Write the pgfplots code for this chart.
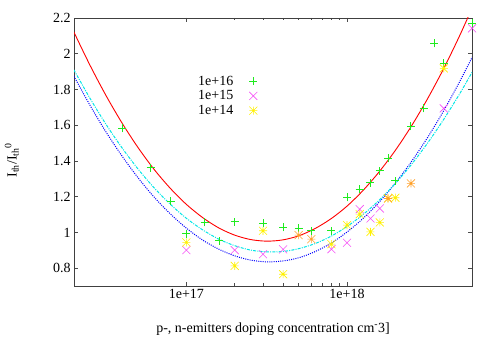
\documentclass[border=0pt]{standalone}
\usepackage{fontspec}
\setmainfont{Liberation Serif}
\usepackage{pgfplots}
\pgfplotsset{compat=1.18}
\definecolor{gpred}{RGB}{255,0,0}
\definecolor{gpgreen}{RGB}{30,235,30}
\definecolor{gpblue}{RGB}{0,0,255}
\definecolor{gpmag}{RGB}{245,80,245}
\definecolor{gpcyan}{RGB}{0,230,230}
\definecolor{gpyellow}{RGB}{255,240,0}
\definecolor{gporange}{RGB}{255,160,40}
\pgfdeclareplotmark{gpx}{%
  \pgfpathmoveto{\pgfpoint{-\pgfplotmarksize}{-\pgfplotmarksize}}%
  \pgfpathlineto{\pgfpoint{\pgfplotmarksize}{\pgfplotmarksize}}%
  \pgfpathmoveto{\pgfpoint{-\pgfplotmarksize}{\pgfplotmarksize}}%
  \pgfpathlineto{\pgfpoint{\pgfplotmarksize}{-\pgfplotmarksize}}%
  \pgfusepathqstroke}
\pgfdeclareplotmark{gpplus}{%
  \pgfpathmoveto{\pgfpoint{-\pgfplotmarksize}{0pt}}%
  \pgfpathlineto{\pgfpoint{\pgfplotmarksize}{0pt}}%
  \pgfpathmoveto{\pgfpoint{0pt}{-\pgfplotmarksize}}%
  \pgfpathlineto{\pgfpoint{0pt}{\pgfplotmarksize}}%
  \pgfusepathqstroke}
\pgfdeclareplotmark{gpstar}{%
  \pgfpathmoveto{\pgfpoint{-\pgfplotmarksize}{-\pgfplotmarksize}}%
  \pgfpathlineto{\pgfpoint{\pgfplotmarksize}{\pgfplotmarksize}}%
  \pgfpathmoveto{\pgfpoint{-\pgfplotmarksize}{\pgfplotmarksize}}%
  \pgfpathlineto{\pgfpoint{\pgfplotmarksize}{-\pgfplotmarksize}}%
  \pgfpathmoveto{\pgfpoint{-\pgfplotmarksize}{0pt}}%
  \pgfpathlineto{\pgfpoint{\pgfplotmarksize}{0pt}}%
  \pgfpathmoveto{\pgfpoint{0pt}{-\pgfplotmarksize}}%
  \pgfpathlineto{\pgfpoint{0pt}{\pgfplotmarksize}}%
  \pgfusepathqstroke}
\begin{document}
\begin{tikzpicture}
\begin{axis}[
  name=ax, scale only axis, width=398bp, height=268bp,
  xmode=log, xmin=2e16, xmax=6e18, ymin=0.7, ymax=2.2,
  xtick={1e17,1e18}, xticklabels={1e+17,1e+18},
  ytick={0.8,1,1.2,1.4,1.6,1.8,2,2.2},
  yticklabels={0.8,1,1.2,1.4,1.6,1.8,2,2.2},
  tick label style={font=\fontsize{14bp}{16bp}\selectfont},
  label style={font=\fontsize{14bp}{16bp}\selectfont},
  axis line style={black!75, line width=0.8bp},
  tick style={black!70, line width=0.6bp},
  major tick length=4bp, minor tick length=2.5bp,
  xlabel={p-, n-emitters doping concentration cm\textsuperscript{-}3]},
  ylabel={I\textsubscript{th}/I\textsubscript{th}\textsuperscript{0}},
  xlabel style={at={(axis description cs:0.5,-0.125)}, anchor=north},
  ylabel style={at={(axis description cs:-0.13,0.47)}, anchor=south},
  legend style={draw=none, fill=none, at={(axis description cs:0.299,0.80)}, anchor=north west,
    font=\fontsize{14bp}{16bp}\selectfont, row sep=0bp, column sep=14bp},
  legend cell align=right, legend plot pos=right,
  mark size=4bp,
]
\addplot[gpred, line width=0.9bp, smooth, forget plot] coordinates {
(1.995e16,2.122)(2.512e16,1.936)(3.162e16,1.766)(3.981e16,1.612)(5.012e16,1.474)(6.310e16,1.352)(7.943e16,1.247)(1e17,1.157)(1.259e17,1.084)(1.585e17,1.026)(1.995e17,0.985)(2.512e17,0.960)(3.162e17,0.951)(3.981e17,0.958)(5.012e17,0.981)(6.310e17,1.021)(7.943e17,1.076)(1e18,1.147)(1.259e18,1.235)(1.585e18,1.339)(1.995e18,1.458)(2.512e18,1.594)(3.162e18,1.746)(3.981e18,1.914)(5.012e18,2.099)(6.310e18,2.299)};
\addplot[gpblue, line width=1bp, smooth, dash pattern=on 1bp off 1.2bp, forget plot] coordinates {
(1.995e16,1.875)(2.512e16,1.712)(3.162e16,1.562)(3.981e16,1.427)(5.012e16,1.305)(6.310e16,1.197)(7.943e16,1.104)(1e17,1.024)(1.259e17,0.958)(1.585e17,0.907)(1.995e17,0.869)(2.512e17,0.845)(3.162e17,0.835)(3.981e17,0.840)(5.012e17,0.858)(6.310e17,0.892)(7.943e17,0.939)(1e18,1.002)(1.259e18,1.078)(1.585e18,1.169)(1.995e18,1.275)(2.512e18,1.395)(3.162e18,1.529)(3.981e18,1.678)(5.012e18,1.842)(6.026e18,1.983)};
\addplot[gpcyan, line width=1bp, smooth, dash pattern=on 3bp off 1.2bp on 1bp off 1.2bp, forget plot] coordinates {
(1.995e16,1.910)(2.512e16,1.751)(3.162e16,1.605)(3.981e16,1.473)(5.012e16,1.354)(6.310e16,1.249)(7.943e16,1.158)(1e17,1.079)(1.259e17,1.015)(1.585e17,0.963)(1.995e17,0.926)(2.512e17,0.901)(3.162e17,0.891)(3.981e17,0.893)(5.012e17,0.909)(6.310e17,0.937)(7.943e17,0.978)(1e18,1.033)(1.259e18,1.100)(1.585e18,1.180)(1.995e18,1.273)(2.512e18,1.379)(3.162e18,1.498)(3.981e18,1.630)(5.012e18,1.774)(6.026e18,1.899)};
\addplot[gpgreen, only marks, mark=gpplus, line width=1bp] coordinates {
(4e16,1.582)(6e16,1.362)(8e16,1.175)(1e17,0.992)(1.3e17,1.056)(1.6e17,0.953)(2e17,1.059)(3e17,1.05)(4e17,1.028)(5e17,1.022)(6e17,1.009)(8e17,1.009)(1e18,1.196)(1.2e18,1.242)(1.4e18,1.278)(1.6e18,1.345)(1.8e18,1.414)(2e18,1.289)(2.5e18,1.595)(3e18,1.694)(3.5e18,2.058)(4e18,1.946)(6e18,2.17)};
\addlegendentry{1e+16}
\addplot[gpmag, only marks, mark=gpx, line width=0.6bp] coordinates {
(1e17,0.901)(2e17,0.901)(3e17,0.878)(4e17,0.905)(8e17,0.906)(1e18,0.942)(1.2e18,1.130)(1.4e18,1.078)(1.6e18,1.134)(4e18,1.694)(6e18,2.142)};
\addlegendentry{1e+15}
\addplot[gpyellow, only marks, mark=gpstar, line width=0.6bp] coordinates {
(1e17,0.944)(2e17,0.813)(3e17,1.009)(4e17,0.766)(8e17,0.934)(1e18,1.041)(1.2e18,1.102)(1.4e18,1.003)(1.6e18,1.056)(1.8e18,1.19)(2e18,1.194)(4e18,1.918)};
\addlegendentry{1e+14}
\addplot[gporange, only marks, mark=gpstar, line width=0.6bp, forget plot] coordinates {
(5e17,0.985)(6e17,0.962)(1.8e18,1.19)(2.5e18,1.274)};
\end{axis}
\path ([shift={(-74bp,-64bp)}]ax.south west) rectangle ([shift={(28bp,18bp)}]ax.north east);
\end{tikzpicture}
\end{document}
